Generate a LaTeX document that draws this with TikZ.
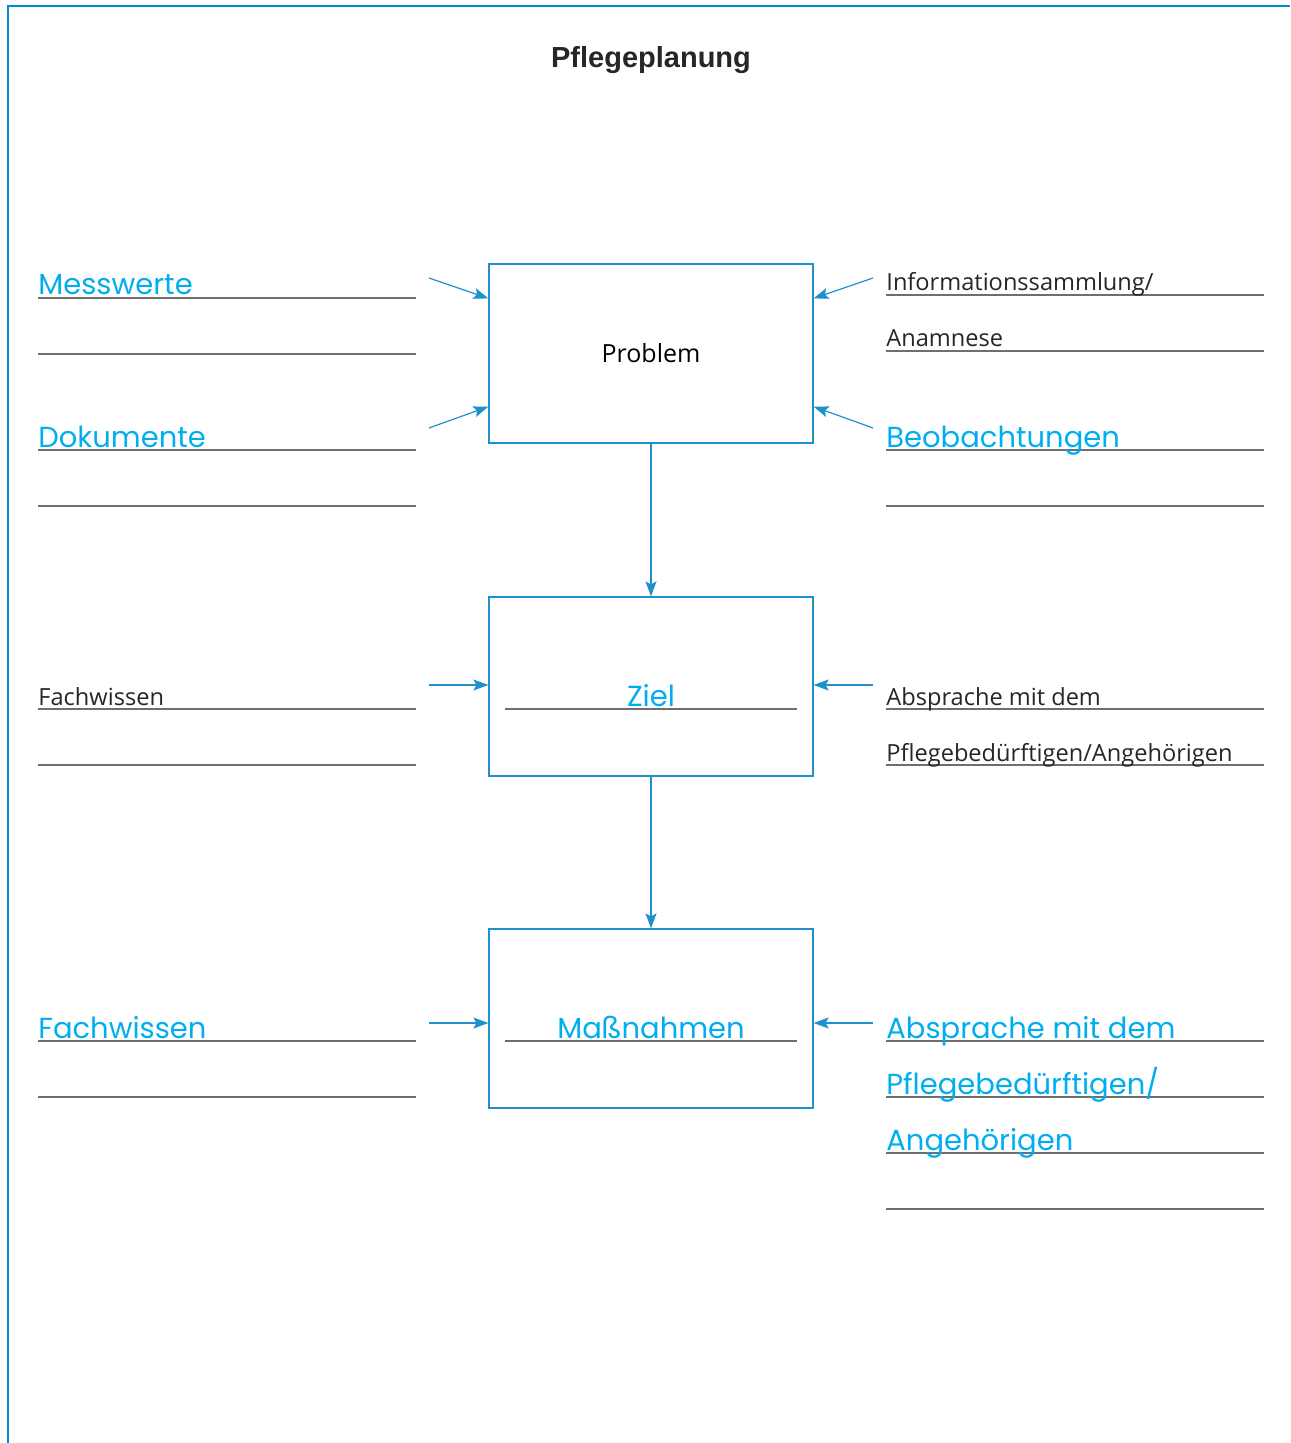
\documentclass[tikz,border=0pt]{standalone}
\usepackage{fontspec}
\setmainfont{Open Sans}
\newfontfamily\handfont{Poppins}
\newfontfamily\titlefont{Liberation Sans}
\usetikzlibrary{arrows.meta}
\definecolor{frameblue}{RGB}{0,140,210}
\definecolor{boxblue}{RGB}{30,145,205}
\definecolor{handcyan}{RGB}{0,174,239}
\definecolor{linegray}{RGB}{110,110,110}

\begin{document}
\begin{tikzpicture}[x=0.5pt,y=-0.5pt,
box/.style={draw=boxblue,line width=0.6pt,minimum width=162pt,minimum height=89.5pt,
inner sep=0pt,font=\fontsize{12.5}{14}\selectfont},
arr/.style={-{Stealth[length=7.5pt,width=5.5pt,inset=1.5pt]},draw=boxblue,line width=0.6pt},
wline/.style={draw=linegray,line width=0.7pt},
lbl/.style={anchor=base west,inner sep=0pt,font=\fontsize{11.8}{14}\selectfont,text=black!85},
hand/.style={anchor=base west,inner sep=0pt,font=\handfont\fontsize{14.5}{16}\selectfont,text=handcyan}]
\useasboundingbox (0,0) rectangle (1290,1443);
\draw[frameblue,line width=1pt] (8,1443) -- (8,6) -- (1290,6);
\node[font=\titlefont\bfseries\fontsize{14.5}{16}\selectfont,text=black!85] (title) at (651,60) {Pflegeplanung};
% boxes
\node[box] (prob) at (651,353.5) {Problem};
\node[box] (ziel) at (651,686.5) {};
\node[box] (mass) at (651,1018.5) {};
\draw[arr] (prob) -- (ziel);
\draw[arr] (ziel) -- (mass);
% writing lines
\foreach \y in {298,354,450,506,709,765,1041,1097}
  \draw[wline] (38,\y) -- (416,\y);
\foreach \y in {295,351,450,506,709,765,1041,1097,1153,1209}
  \draw[wline] (886,\y) -- (1264,\y);
\draw[wline] (505,709) -- (797,709);
\draw[wline] (505,1041) -- (797,1041);
% arrows into the boxes
\coordinate (pl1) at (429,278);
\coordinate (pl2) at (429,428);
\coordinate (pr1) at (873,278);
\coordinate (pr2) at (873,428);
\coordinate (zl) at (429,685);
\coordinate (zr) at (873,685);
\coordinate (ml) at (429,1023);
\coordinate (mr) at (873,1023);
\draw[arr] (pl1) -- ([yshift=-17.5pt]prob.north west);
\draw[arr] (pl2) -- ([yshift=18.5pt]prob.south west);
\draw[arr] (pr1) -- ([yshift=-17.5pt]prob.north east);
\draw[arr] (pr2) -- ([yshift=18.5pt]prob.south east);
\draw[arr] (zl) -- (ziel.west |- zl);
\draw[arr] (zr) -- (ziel.east |- zr);
\draw[arr] (ml) -- (mass.west |- ml);
\draw[arr] (mr) -- (mass.east |- mr);
% left texts
\node[hand] (messw) at (38,295) {Messwerte};
\node[hand] (dokum) at (38,447) {Dokumente};
\node[lbl] (fachw1) at (38,705) {Fachwissen};
\node[hand] (fachw2) at (38,1038) {Fachwissen};
% right texts
\node[lbl] (info) at (886,291) {Informationssammlung/};
\node[lbl] (anam) at (886,347) {Anamnese};
\node[hand] (beob) at (886,447) {Beobachtungen};
\node[lbl] (abspr1) at (886,705) {Absprache mit dem};
\node[lbl] (pfleg1) at (886,761) {Pflegebedürftigen/Angehörigen};
\node[hand] (abspr2) at (886,1038) {Absprache mit dem};
\node[hand] (pfleg2) at (886,1094) {Pflegebedürftigen/};
\node[hand] (angeh) at (886,1150) {Angehörigen};
% texts in the boxes
\node[hand,anchor=base] (zielt) at (651,706) {Ziel};
\node[hand,anchor=base] (masst) at (651,1038) {Maßnahmen};
\end{tikzpicture}
\end{document}
